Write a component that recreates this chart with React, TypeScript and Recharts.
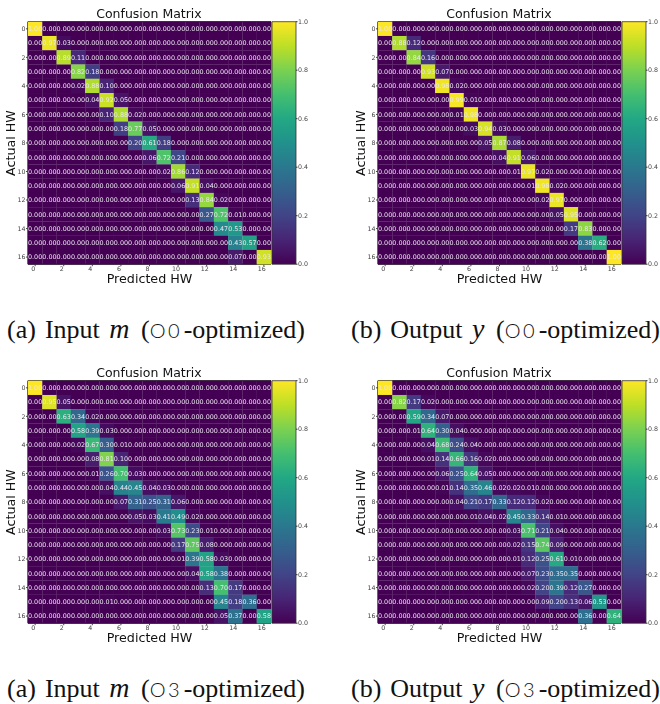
import { BarChart, Bar, ScatterChart, Scatter, XAxis, YAxis, ReferenceArea } from 'recharts';

// each row lists its non-zero cells as [column, value]; everything else prints 0.00
type Row = [number, number][];

const inputO0: Row[] = [
  [[0, 1.0]],
  [[1, 0.97], [2, 0.03]],
  [[2, 0.89], [3, 0.11]],
  [[3, 0.82], [4, 0.18]],
  [[3, 0.02], [4, 0.88], [5, 0.1]],
  [[4, 0.04], [5, 0.92], [6, 0.05]],
  [[5, 0.1], [6, 0.88], [7, 0.02]],
  [[6, 0.18], [7, 0.77], [8, 0.05]],
  [[7, 0.2], [8, 0.61], [9, 0.18]],
  [[8, 0.06], [9, 0.72], [10, 0.21]],
  [[9, 0.02], [10, 0.86], [11, 0.12]],
  [[10, 0.06], [11, 0.91], [12, 0.04]],
  [[11, 0.13], [12, 0.84], [13, 0.02]],
  [[12, 0.27], [13, 0.72], [14, 0.01]],
  [[13, 0.47], [14, 0.53]],
  [[14, 0.43], [15, 0.57]],
  [[14, 0.07], [16, 0.93]],
];

const outputO0: Row[] = [
  [[0, 1.0]],
  [[1, 0.88], [2, 0.12]],
  [[2, 0.84], [3, 0.16]],
  [[3, 0.93], [4, 0.07]],
  [[4, 0.98], [5, 0.02]],
  [[5, 0.99], [6, 0.01]],
  [[5, 0.01], [6, 0.98]],
  [[6, 0.03], [7, 0.94], [8, 0.03]],
  [[7, 0.05], [8, 0.87], [9, 0.08]],
  [[8, 0.04], [9, 0.91], [10, 0.06]],
  [[9, 0.01], [10, 0.97], [11, 0.02]],
  [[10, 0.01], [11, 0.98], [12, 0.02]],
  [[11, 0.02], [12, 0.97]],
  [[12, 0.05], [13, 0.95]],
  [[13, 0.17], [14, 0.83]],
  [[14, 0.38], [15, 0.62]],
  [[16, 1.0]],
];

const inputO3: Row[] = [
  [[0, 1.0]],
  [[1, 0.95], [2, 0.05]],
  [[2, 0.63], [3, 0.34], [4, 0.02]],
  [[3, 0.58], [4, 0.39], [5, 0.03]],
  [[3, 0.02], [4, 0.67], [5, 0.3], [6, 0.01]],
  [[4, 0.08], [5, 0.81], [6, 0.1]],
  [[4, 0.01], [5, 0.26], [6, 0.7], [7, 0.03]],
  [[5, 0.04], [6, 0.44], [7, 0.45], [8, 0.04], [9, 0.03]],
  [[6, 0.07], [7, 0.31], [8, 0.25], [9, 0.31], [10, 0.06]],
  [[7, 0.05], [8, 0.03], [9, 0.41], [10, 0.49], [11, 0.02]],
  [[9, 0.03], [10, 0.73], [11, 0.23], [12, 0.01]],
  [[10, 0.17], [11, 0.75], [12, 0.08]],
  [[10, 0.01], [11, 0.39], [12, 0.58], [13, 0.03]],
  [[11, 0.04], [12, 0.58], [13, 0.38]],
  [[12, 0.13], [13, 0.7], [14, 0.17]],
  [[5, 0.01], [13, 0.45], [14, 0.18], [15, 0.36]],
  [[13, 0.05], [14, 0.37], [16, 0.58]],
];

const outputO3: Row[] = [
  [[0, 1.0]],
  [[1, 0.82], [2, 0.17], [3, 0.02]],
  [[2, 0.59], [3, 0.34], [4, 0.07]],
  [[2, 0.01], [3, 0.64], [4, 0.3], [5, 0.04]],
  [[3, 0.04], [4, 0.68], [5, 0.24], [6, 0.04]],
  [[3, 0.01], [4, 0.14], [5, 0.66], [6, 0.16], [7, 0.02]],
  [[4, 0.06], [5, 0.25], [6, 0.64], [7, 0.05]],
  [[4, 0.01], [5, 0.14], [6, 0.35], [7, 0.46], [8, 0.02], [9, 0.02], [10, 0.01]],
  [[5, 0.04], [6, 0.21], [7, 0.17], [8, 0.33], [9, 0.12], [10, 0.12], [11, 0.02]],
  [[6, 0.01], [7, 0.04], [8, 0.02], [9, 0.45], [10, 0.33], [11, 0.14], [12, 0.01]],
  [[9, 0.03], [10, 0.71], [11, 0.21], [12, 0.04]],
  [[9, 0.02], [10, 0.15], [11, 0.74], [12, 0.09]],
  [[9, 0.01], [10, 0.12], [11, 0.25], [12, 0.61], [13, 0.01]],
  [[10, 0.07], [11, 0.23], [12, 0.35], [13, 0.35]],
  [[10, 0.02], [11, 0.2], [12, 0.39], [13, 0.12], [14, 0.27]],
  [[11, 0.09], [12, 0.2], [13, 0.13], [14, 0.06], [15, 0.53]],
  [[14, 0.36], [16, 0.64]],
];

const hwTicks = [0, 2, 4, 6, 8, 10, 12, 14, 16];
const colorbarTicks = [0, 0.2, 0.4, 0.6, 0.8, 1];
const colorbarData = [{ name: 'scale', top: 1 }];

const viridis = [
  '#440154', '#482475', '#414487', '#355f8d', '#2a788e', '#21918c',
  '#22a884', '#44bf70', '#7ad151', '#bddf26', '#fde725',
];

const FONT = '"DejaVu Sans", sans-serif';
const PLOT_W = 243;
const PLOT_H = 242.5;
const CELL_W = PLOT_W / 17;
const CELL_H = PLOT_H / 17;

const hex = (c: string, i: number) => parseInt(c.slice(1 + i * 2, 3 + i * 2), 16);

const colorFor = (v: number) => {
  const p = Math.min(v, 1) * (viridis.length - 1);
  const lo = Math.floor(p);
  const hi = Math.min(lo + 1, viridis.length - 1);
  const mix = [0, 1, 2].map((i) => Math.round(hex(viridis[lo], i) * (1 - (p - lo)) + hex(viridis[hi], i) * (p - lo)));
  return `rgb(${mix.join(',')})`;
};

const toCells = (rows: Row[]) =>
  rows.flatMap((row, r) =>
    Array.from({ length: 17 }, (_, c) => ({ col: c, row: r, value: row.find((e) => e[0] === c)?.[1] ?? 0 }))
  );

const CellRect = (props: any) => (
  <rect
    x={props.cx - CELL_W / 2}
    y={props.cy - CELL_H / 2}
    width={CELL_W + 0.2}
    height={CELL_H + 0.2}
    fill={colorFor(props.payload.value)}
  />
);

const CellText = (props: any) => (
  <text
    x={props.cx}
    y={props.cy + 2.3}
    textAnchor="middle"
    fontSize={6.4}
    fontFamily={FONT}
    fill="#ece7f0"
  >
    {props.payload.value.toFixed(2)}
  </text>
);

const Panel = ({ id, rows, left, top }: { id: string; rows: Row[]; left: number; top: number }) => {
  const cells = toCells(rows);
  return (
    <div style={{ position: 'absolute', left, top, width: 330, height: 300, filter: 'blur(0.4px)' }}>
      <div style={{ position: 'absolute', left: 272, top: 0 }}>
        <BarChart width={58} height={300} data={colorbarData} margin={{ top: 21.7, right: 0, bottom: 35.8, left: 0 }} barCategoryGap={0}>
          <defs>
            <linearGradient id={id} x1="0" y1="1" x2="0" y2="0">
              {viridis.map((c, i) => (
                <stop key={c} offset={i / (viridis.length - 1)} stopColor={c} />
              ))}
            </linearGradient>
          </defs>
          <XAxis dataKey="name" hide />
          <YAxis
            orientation="right"
            width={34}
            domain={[0, 1]}
            ticks={colorbarTicks}
            tickFormatter={(v: number) => v.toFixed(1)}
            axisLine={false}
            tickSize={1.5}
            tickMargin={0.5}
            stroke="#333"
            tick={{ fontSize: 6.3, fontFamily: FONT, fill: '#444' }}
          />
          <Bar dataKey="top" fill={`url(#${id})`} stroke="#333" strokeWidth={0.8} isAnimationActive={false} />
        </BarChart>
      </div>
      <div style={{ position: 'absolute', left: 0, top: 0 }}>
        <ScatterChart width={272} height={300} margin={{ top: 21.7, right: 1, bottom: 0, left: 0 }}>
          <XAxis
            type="number"
            dataKey="col"
            domain={[-0.5, 16.5]}
            ticks={hwTicks}
            interval={0}
            height={35.8}
            tickSize={2}
            tickMargin={0.5}
            stroke="#444"
            tick={{ fontSize: 6.3, fontFamily: FONT, fill: '#444', dx: -2 }}
            label={{ value: 'Predicted HW', position: 'insideBottom', offset: 17, fontSize: 12.7, fontFamily: FONT, fill: '#111' }}
          />
          <YAxis
            type="number"
            dataKey="row"
            reversed
            domain={[-0.5, 16.5]}
            ticks={hwTicks}
            interval={0}
            width={28}
            tickSize={2}
            tickMargin={0.5}
            stroke="#444"
            tick={{ fontSize: 6.3, fontFamily: FONT, fill: '#444' }}
            label={{ value: 'Actual HW', angle: -90, position: 'insideLeft', offset: 0, fontSize: 12.7, fontFamily: FONT, fill: '#111', dx: 10, dy: 33 }}
          />
          <Scatter data={cells} shape={CellRect} isAnimationActive={false} />
          <Scatter data={cells} shape={CellText} isAnimationActive={false} />
          <ReferenceArea x1={-0.5} x2={16.5} y1={-0.5} y2={16.5} fill="none" stroke="#111" strokeWidth={1} fillOpacity={0} strokeOpacity={1} ifOverflow="visible" />
          <text x={149} y={18} textAnchor="middle" fontSize={12.5} fontFamily={FONT} fill="#111">
            Confusion Matrix
          </text>
        </ScatterChart>
      </div>
    </div>
  );
};

const Caption = ({ tag, name, symbol, level, left, top }: { tag: string; name: string; symbol: string; level: string; left: number; top: number }) => (
  <div style={{ position: 'absolute', left, top, whiteSpace: 'nowrap', fontFamily: '"Liberation Serif", serif', fontSize: 26, lineHeight: '28px', wordSpacing: 2.5, color: '#111' }}>
    ({tag}) {name} <i style={{ marginLeft: 0.5, marginRight: 2.5, fontSize: 28 }}>{symbol}</i> (<span style={{ display: 'inline-block', width: 34, fontFamily: 'Lato, sans-serif', fontSize: 20, fontWeight: 300, letterSpacing: 2.5 }}>{level}</span>-optimized)
  </div>
);

export default function App() {
  return (
    <div style={{ position: 'absolute', left: 0, top: 0, width: 660, height: 704, background: '#fff', overflow: 'hidden' }}>
      <Panel id="cbA" rows={inputO0} left={0} top={0} />
      <Panel id="cbB" rows={outputO0} left={349.5} top={0} />
      <Panel id="cbC" rows={inputO3} left={0} top={359} />
      <Panel id="cbD" rows={outputO3} left={349.5} top={359} />
      <Caption tag="a" name="Input" symbol="m" level="O0" left={7} top={315} />
      <Caption tag="b" name="Output" symbol="y" level="O0" left={351} top={315} />
      <Caption tag="a" name="Input" symbol="m" level="O3" left={7} top={674} />
      <Caption tag="b" name="Output" symbol="y" level="O3" left={351} top={674} />
    </div>
  );
}
